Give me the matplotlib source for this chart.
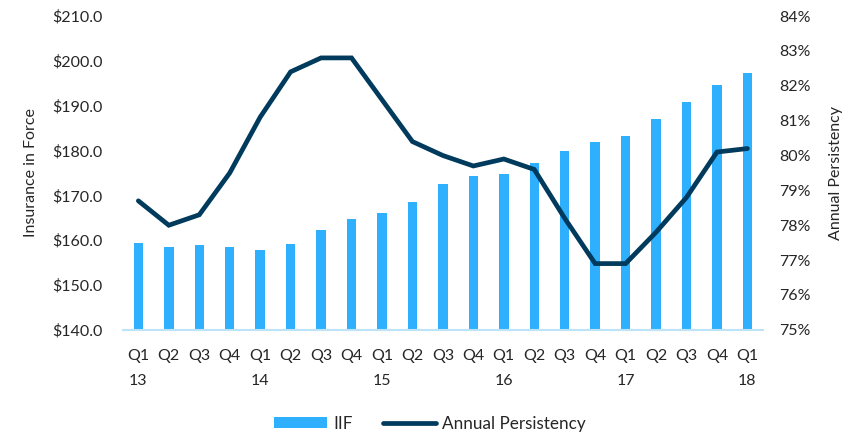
import matplotlib.pyplot as plt
from matplotlib.ticker import FuncFormatter

quarters = ['Q1', 'Q2', 'Q3', 'Q4'] * 5 + ['Q1']
years = ['13', '14', '15', '16', '17', '18']
labels = [q + '\n' + (years[i // 4] if i % 4 == 0 else '') for i, q in enumerate(quarters)]

iif = [159.3, 158.5, 159.0, 158.5, 157.7, 159.1, 162.2, 164.7, 166.0, 168.6,
       172.5, 174.3, 174.8, 177.3, 179.9, 181.8, 183.3, 187.1, 190.8, 194.7, 197.3]
persistency = [78.7, 78.0, 78.3, 79.5, 81.1, 82.4, 82.8, 82.8, 81.6, 80.4,
               80.0, 79.7, 79.9, 79.6, 78.2, 76.9, 76.9, 77.8, 78.8, 80.1, 80.2]

bar_color = '#2eb0ff'
line_color = '#003a5c'
text_color = '#262626'

plt.rcParams['font.family'] = ['Lato', 'DejaVu Sans']
plt.rcParams['font.size'] = 11.5

fig = plt.figure(figsize=(8.55, 4.34), dpi=100)
ax = fig.add_axes([0.144, 0.24, 0.748, 0.723])
ax2 = ax.twinx()

x = list(range(len(iif)))
bars = ax.bar(x, iif, width=0.31, color=bar_color, label='IIF', zorder=2)
line, = ax2.plot(x, persistency, color=line_color, linewidth=3.4,
                 solid_capstyle='round', solid_joinstyle='miter', label='Annual Persistency', zorder=3)

ax.set_xlim(-0.5, len(iif) - 0.5)
ax.set_ylim(140, 210)
ax.set_yticks(range(140, 211, 10))
ax.yaxis.set_major_formatter(FuncFormatter(lambda v, p: f'${v:.1f}'))
ax2.set_ylim(75, 84)
ax2.set_yticks(range(75, 85))
ax2.yaxis.set_major_formatter(FuncFormatter(lambda v, p: f'{v:.0f}%'))

ax.set_xticks(x)
ax.set_xticklabels(labels, linespacing=1.95, ha='center')

for a in (ax, ax2):
    for s in a.spines.values():
        s.set_visible(False)
    a.tick_params(length=0, colors=text_color, labelsize=11.5)
ax.spines['bottom'].set_visible(True)
ax.spines['bottom'].set_color('#bde3f8')
ax.spines['bottom'].set_linewidth(1.5)
ax.tick_params(axis='y', pad=15)
ax.tick_params(axis='x', pad=14)
ax2.tick_params(axis='y', pad=12)

ax.set_ylabel('Insurance in Force', color=text_color, fontsize=11.5, labelpad=10)
ax2.set_ylabel('Annual Persistency', color=text_color, fontsize=11.5, labelpad=13)

fig.legend([bars, line], ['IIF', 'Annual Persistency'], loc='lower center',
           bbox_to_anchor=(0.503, -0.03), ncol=2, frameon=False, fontsize=12.3,
           handlelength=3.1, handleheight=0.65, columnspacing=1.8, handletextpad=0.35,
           labelcolor=text_color)

fig.savefig('out.png', dpi=100)
